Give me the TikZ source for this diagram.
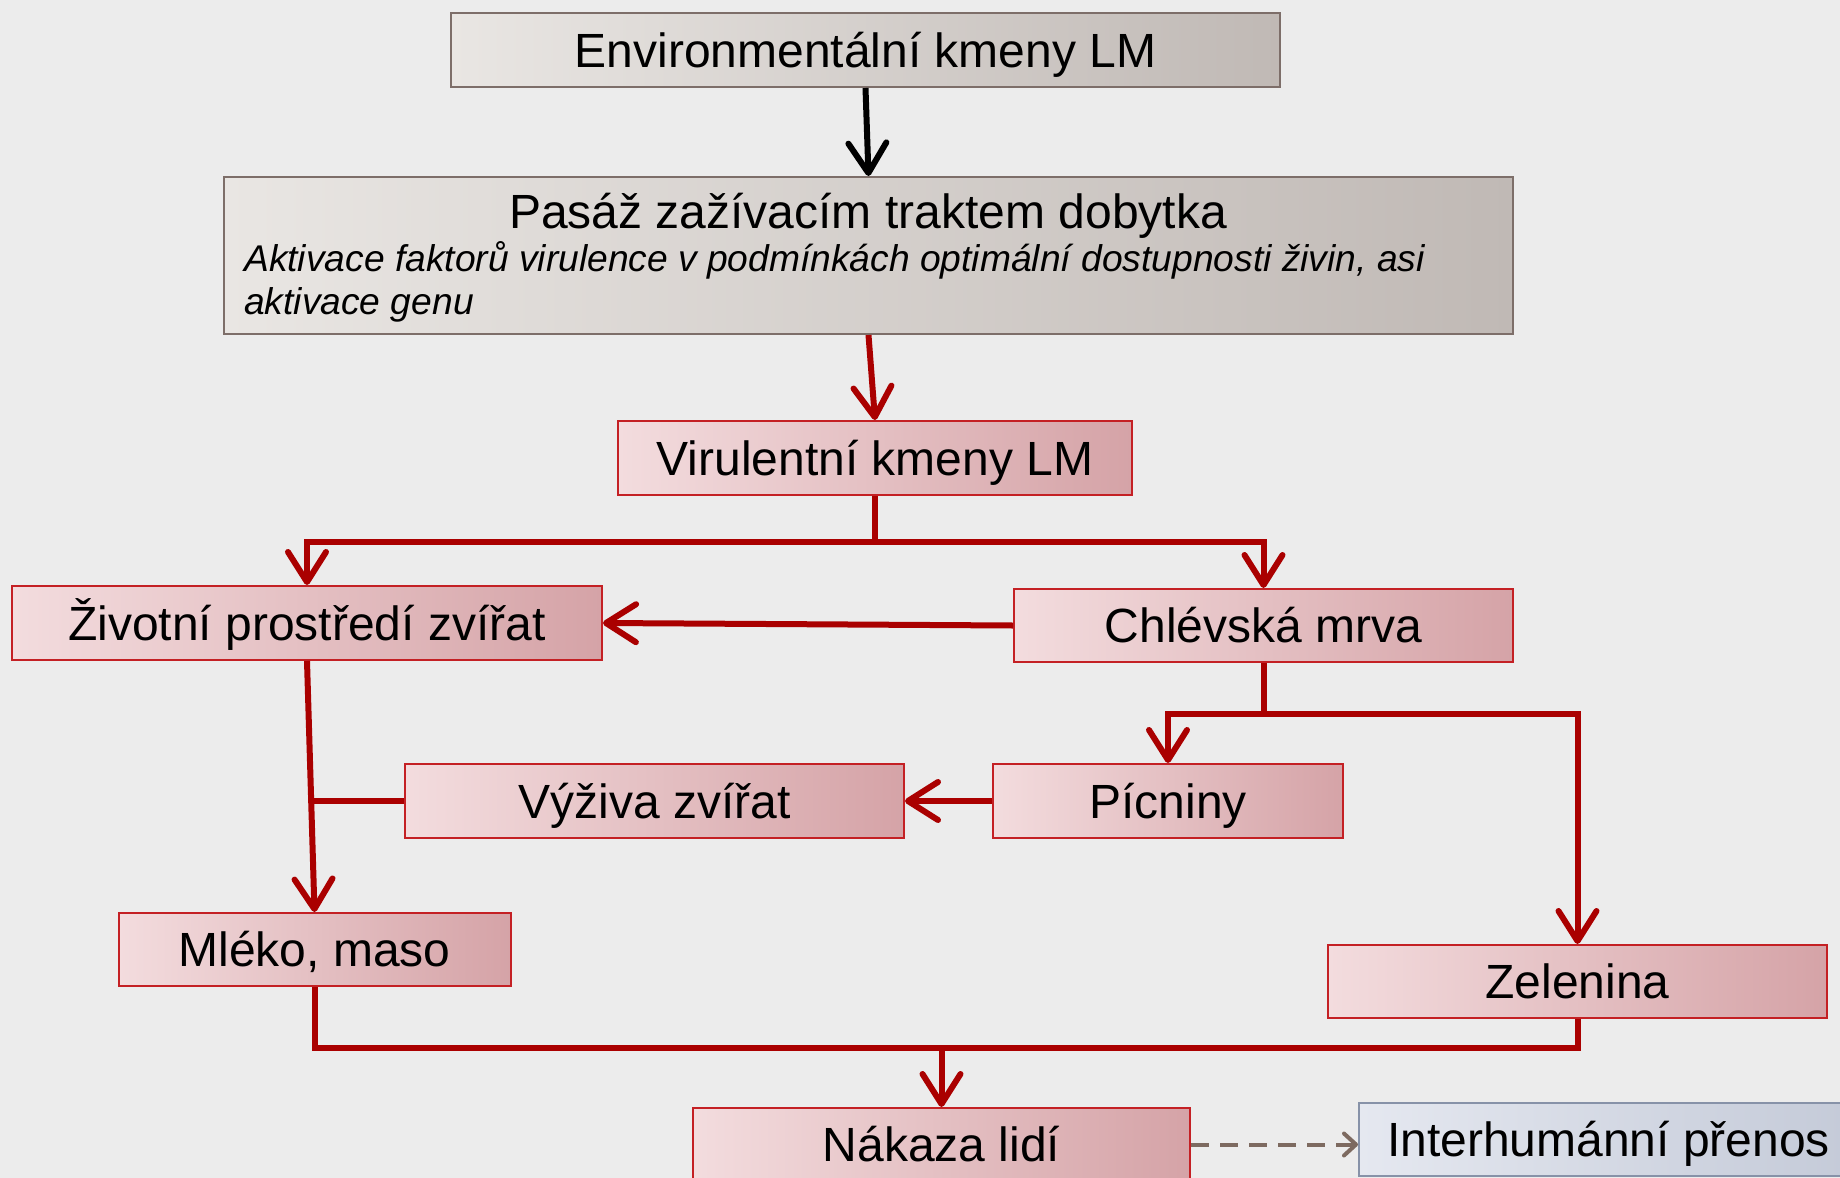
\documentclass[tikz,border=0pt]{standalone}
\usepackage{fontspec}
\setmainfont{Liberation Sans}
\usetikzlibrary{arrows.meta}
\definecolor{bgc}{RGB}{236,236,236}
\definecolor{lred}{RGB}{170,0,0}
\definecolor{rboxL}{RGB}{243,220,222}
\definecolor{rboxR}{RGB}{213,163,167}
\definecolor{rbord}{RGB}{196,32,36}
\definecolor{gboxL}{RGB}{233,230,227}
\definecolor{gboxR}{RGB}{192,185,181}
\definecolor{gbord}{RGB}{125,110,105}
\definecolor{bboxL}{RGB}{229,232,240}
\definecolor{bboxR}{RGB}{196,202,216}
\definecolor{bbord}{RGB}{135,146,168}
\definecolor{dashc}{RGB}{125,106,96}
\begin{document}
\begin{tikzpicture}[x=1pt,y=-1pt,
  box/.style={rectangle, inner sep=0pt, line width=2pt, text=black,
    font=\fontsize{48}{56}\selectfont, text height=34.5pt, text depth=0pt},
  redbox/.style={box, draw=rbord, left color=rboxL, right color=rboxR},
  graybox/.style={box, draw=gbord, left color=gboxL, right color=gboxR},
  bluebox/.style={box, draw=bbord, left color=bboxL, right color=bboxR},
  flow/.style={draw=lred, line width=6pt},
  arrowed/.style={-{Straight Barb[length=30pt,width=38pt,round]}},
  dashflow/.style={draw=dashc, line width=4pt, dash pattern=on 18pt off 11pt,
    -{Straight Barb[length=12pt,width=22pt,round]}},
  itl/.style={anchor=base west, inner sep=0pt, font=\fontsize{37.2}{44}\selectfont\itshape},
]
\useasboundingbox (0,0) rectangle (1840,1178);
\clip (0,0) rectangle (1840,1178);
\fill[bgc] (0,0) rectangle (1840,1178);

% boxes
\node[graybox, minimum width=829pt, minimum height=74pt] (env) at (865.5,50) {Environmentální kmeny LM};
\node[graybox, minimum width=1289pt, minimum height=157pt] (pas) at (868.5,255.5) {};
\node[anchor=base, inner sep=0pt, font=\fontsize{48}{56}\selectfont] (pasH) at (868,228) {Pasáž zažívacím traktem dobytka};
\node[itl] (pasI1) at (244,271) {Aktivace faktorů virulence v podmínkách optimální dostupnosti živin, asi};
\node[itl] (pasI2) at (244,314) {aktivace genu};

\node[redbox, minimum width=514pt, minimum height=74pt] (vir) at (875,458) {Virulentní kmeny LM};
\node[redbox, minimum width=590pt, minimum height=74pt] (ziv) at (307,623) {Životní prostředí zvířat};
\node[redbox, minimum width=499pt, minimum height=73pt] (chl) at (1263.5,625.5) {Chlévská mrva};
\node[redbox, minimum width=499pt, minimum height=74pt] (vyz) at (654.5,801) {Výživa zvířat};
\node[redbox, minimum width=350pt, minimum height=74pt] (pic) at (1168,801) {Pícniny};
\node[redbox, minimum width=392pt, minimum height=73pt] (mle) at (314.5,949.5) {Mléko, maso};
\node[redbox, minimum width=499pt, minimum height=73pt] (zel) at (1577.5,981.5) {Zelenina};
\node[redbox, minimum width=497pt, minimum height=73pt] (nak) at (941.5,1144.5) {Nákaza lidí};
\node[bluebox, minimum width=499pt, minimum height=73pt] (inter) at (1608.5,1139.5) {Interhumánní přenos};

% connectors
\draw[flow, arrowed, draw=black] (env.south) -- (pas.north);
\draw[flow, arrowed] (pas.south) -- (vir.north);
\draw[flow, arrowed] (vir.south) -- ++(0,46) -| (ziv.north);
\draw[flow, arrowed] (vir.south) -- ++(0,46) -| (chl.north);
\draw[flow, arrowed] (chl.west) -- (ziv.east);
\draw[flow, arrowed] (chl.south) -- ++(0,51) -| (pic.north);
\draw[flow, arrowed] (chl.south) -- ++(0,51) -| (zel.north);
\draw[flow, arrowed] (pic.west) -- (vyz.east);
\draw[flow, arrowed] (ziv.south) -- (mle.north);
\coordinate (vj) at (311,801);
\draw[flow] (vyz.west) -- (vj);
\coordinate (nj) at (941.5,1048);
\draw[flow] (mle.south) |- (nj);
\draw[flow] (zel.south) |- (nj);
\draw[flow, arrowed] (nj) -- (nak.north);
\draw[dashflow] (nak.east) -- (nak.east -| inter.west);
\end{tikzpicture}
\end{document}
